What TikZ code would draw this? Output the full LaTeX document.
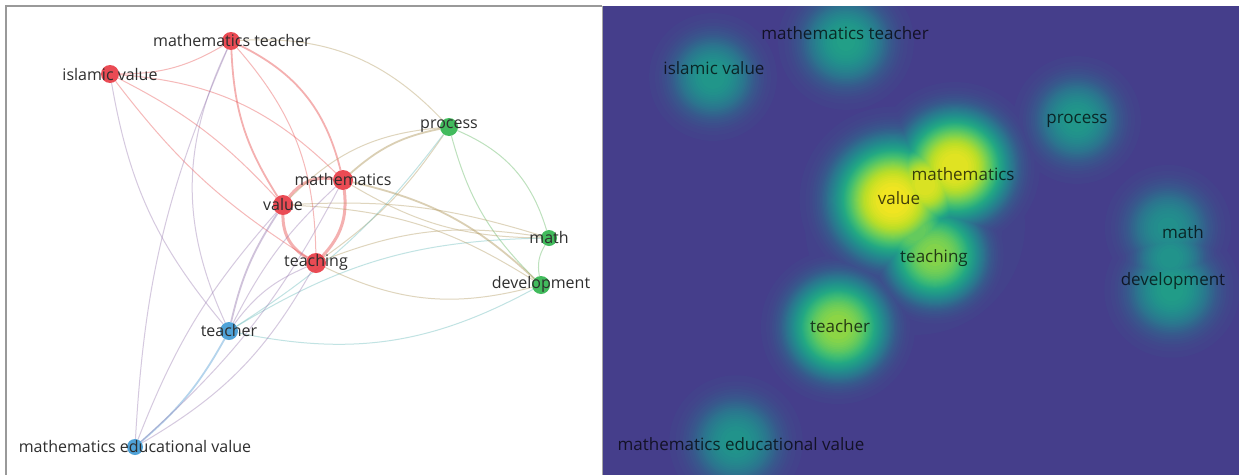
\documentclass[tikz,border=0pt]{standalone}
\usepackage{fontspec}
\setmainfont{Open Sans}
\pgfdeclarelayer{bg}
\pgfdeclarelayer{edges}
\pgfsetlayers{bg,edges,main}
\definecolor{vir0}{RGB}{69,62,139}
\definecolor{vir1}{RGB}{56,88,140}
\definecolor{vir2}{RGB}{42,120,142}
\definecolor{vir3}{RGB}{33,145,140}
\definecolor{vir4}{RGB}{34,168,132}
\definecolor{vir5}{RGB}{68,191,112}
\definecolor{vir6}{RGB}{122,209,81}
\definecolor{vir7}{RGB}{189,223,38}
\definecolor{vir8}{RGB}{248,230,32}
\definecolor{nred}{RGB}{232,56,66}
\definecolor{ngreen}{RGB}{46,180,76}
\definecolor{nblue}{RGB}{60,152,212}
\definecolor{ered}{RGB}{232,80,80}
\definecolor{egreen}{RGB}{90,180,90}
\definecolor{eblue}{RGB}{90,160,215}
\definecolor{eolive}{RGB}{175,150,90}
\definecolor{epurple}{RGB}{150,120,175}
\definecolor{eteal}{RGB}{100,185,185}
\tikzset{
  dot/.style={circle, inner sep=0pt, fill opacity=0.9, draw=none},
  lab/.style={text=black!82, font=\fontsize{16}{19}\selectfont, inner sep=0pt},
  rlab/.style={text=black, text opacity=0.72, font=\fontsize{17}{20}\selectfont, inner sep=0pt},
  ed/.style={line width=1pt, draw opacity=0.4},
  edthick/.style={line width=3pt, draw opacity=0.45},
  edmid/.style={line width=1.8pt, draw opacity=0.45},
}
\begin{document}
\begin{tikzpicture}[x=1pt,y=-1pt]
\useasboundingbox (0,0) rectangle (1239,474);
\begin{pgfonlayer}{bg}
\fill[white] (-2,-2) rectangle (1241,476);
\begin{scope}
\clip (602,6) rectangle (1241,476);
\fill[vir0] (602,6) rectangle (1241,476);
\foreach \i in {1,...,60} {
  \pgfmathsetmacro\L{\i/60}
  \pgfmathsetmacro\v{\L*8}
  \pgfmathtruncatemacro\idx{min(\v,7.999)}
  \pgfmathtruncatemacro\nxt{\idx+1}
  \pgfmathtruncatemacro\pct{100-(\v-\idx)*100}
  \colorlet{levcol}{vir\idx!\pct!vir\nxt}
  \foreach \bx/\by/\bp/\bs/\bq in {
      915/225/0.11/80/0.5,
      713/77/0.42/40/0.4, 846/42/0.46/42/0.4, 1077/120/0.42/40/0.4,
      955/167/0.97/52/0.35, 893/200/1.0/57/0.35, 925/185/0.95/42/0.35,
      935/255/0.78/46/0.35, 915/230/0.72/38/0.35, 838/327/0.8/48/0.35,
      1168/228/0.38/40/0.4, 1172/290/0.45/42/0.4, 1170/258/0.40/35/0.4,
      736/442/0.40/42/0.4} {
    \pgfmathtruncatemacro\ok{\bp>\L+0.004 ? 1 : 0}
    \ifnum\ok=1
      \pgfmathsetmacro\rr{\bs*pow(max(ln(\bp/\L),0.001),\bq)}
      \fill[levcol] (\bx,\by) circle[radius=\rr];
    \fi
  }
}
\end{scope}
\draw[gray!70, line width=1pt] (602,6) -- (602,476);
\draw[gray!80, line width=1.5pt] (6,476) -- (6,6) -- (602,6);
\end{pgfonlayer}

% left network nodes
\node[dot, fill=nred, minimum size=18pt] (mt) at (231,41) {};
\node[dot, fill=nred, minimum size=18pt] (iv) at (110,74) {};
\node[dot, fill=ngreen, minimum size=18pt] (process) at (449,127) {};
\node[dot, fill=nred, minimum size=20pt] (mathematics) at (343,180) {};
\node[dot, fill=nred, minimum size=20pt] (value) at (283,205) {};
\node[dot, fill=ngreen, minimum size=16pt] (math) at (549,238) {};
\node[dot, fill=nred, minimum size=20pt] (teaching) at (316,263) {};
\node[dot, fill=ngreen, minimum size=18pt] (development) at (541,285) {};
\node[dot, fill=nblue, minimum size=18pt] (teacher) at (229,331) {};
\node[dot, fill=nblue, minimum size=16pt] (mev) at (135,447) {};

\node[lab] (l-mt) at (232,40) {mathematics teacher};
\node[lab] (l-iv) at (110,74) {islamic value};
\node[lab] (l-process) at (449,126) {process};
\node[lab] (l-mathematics) at (343,179) {mathematics};
\node[lab] (l-value) at (283,204) {value};
\node[lab] (l-math) at (549,237) {math};
\node[lab] (l-teaching) at (316,262) {teaching};
\node[lab] (l-development) at (541,284) {development};
\node[lab] (l-teacher) at (229,330) {teacher};
\node[lab] (l-mev) at (135,446) {mathematics educational value};

% edges
\begin{pgfonlayer}{edges}
\draw[ered, edthick] (value) to[bend left=30] (mathematics);
\draw[ered, edthick] (value) to[bend right=30] (teaching);
\draw[ered, edthick] (mathematics) to[bend left=25] (teaching);
\draw[ered, edmid] (mt) to[bend left=25] (mathematics);
\draw[ered, edmid] (mt) to[bend right=15] (value);
\draw[ered, ed] (mt) to[bend left=20] (teaching);
\draw[epurple, ed] (mt) to[bend right=25] (teacher);
\draw[eolive, ed] (mt) to[bend left=25] (process);
\draw[ered, ed] (iv) to[bend right=15] (mt);
\draw[ered, ed] (iv) to[bend left=20] (mathematics);
\draw[ered, ed] (iv) to[bend left=10] (value);
\draw[ered, ed] (iv) to[bend right=10] (teaching);
\draw[epurple, ed] (iv) to[bend right=15] (teacher);
\draw[eolive, edmid] (process) to[bend right=15] (mathematics);
\draw[eolive, ed] (process) to[bend right=20] (value);
\draw[eolive, ed] (process) to[bend left=10] (teaching);
\draw[egreen, ed] (process) to[bend left=25] (math);
\draw[egreen, ed] (process) to[bend right=15] (development);
\draw[eteal, ed] (process) to[bend left=10] (teacher);
\draw[egreen, ed] (math) to[bend right=20] (development);
\draw[eolive, ed] (mathematics) to[bend right=15] (math);
\draw[eolive, ed] (value) to[bend left=10] (math);
\draw[eolive, ed] (teaching) to[bend left=15] (math);
\draw[eteal, ed] (teacher) to[bend left=15] (math);
\draw[eolive, edmid] (mathematics) to[bend left=15] (development);
\draw[eolive, ed] (value) to[bend left=15] (development);
\draw[eolive, ed] (teaching) to[bend right=20] (development);
\draw[eteal, ed] (teacher) to[bend right=20] (development);
\draw[epurple, edmid] (teacher) to[bend left=10] (value);
\draw[epurple, ed] (teacher) to[bend left=10] (mathematics);
\draw[epurple, ed] (teacher) to[bend left=15] (teaching);
\draw[eblue, edmid] (teacher) to[bend left=10] (mev);
\draw[epurple, ed] (mev) to[bend left=10] (value);
\draw[epurple, ed] (mev) to[bend right=15] (teaching);
\draw[epurple, ed] (mev) to[bend right=10] (mathematics);
\draw[epurple, ed] (mev) to[bend left=10] (mt);
\end{pgfonlayer}

% right density labels
\node[rlab] (r-mt) at (845,33) {mathematics teacher};
\node[rlab] (r-iv) at (714,68) {islamic value};
\node[rlab] (r-process) at (1077,121) {process};
\node[rlab] (r-mathematics) at (963,174) {mathematics};
\node[rlab] (r-value) at (899,198) {value};
\node[rlab] (r-teaching) at (934,258) {teaching};
\node[rlab] (r-math) at (1183,232) {math};
\node[rlab] (r-development) at (1173,281) {development};
\node[rlab] (r-teacher) at (840,326) {teacher};
\node[rlab] (r-mev) at (741,444) {mathematics educational value};
\end{tikzpicture}
\end{document}
